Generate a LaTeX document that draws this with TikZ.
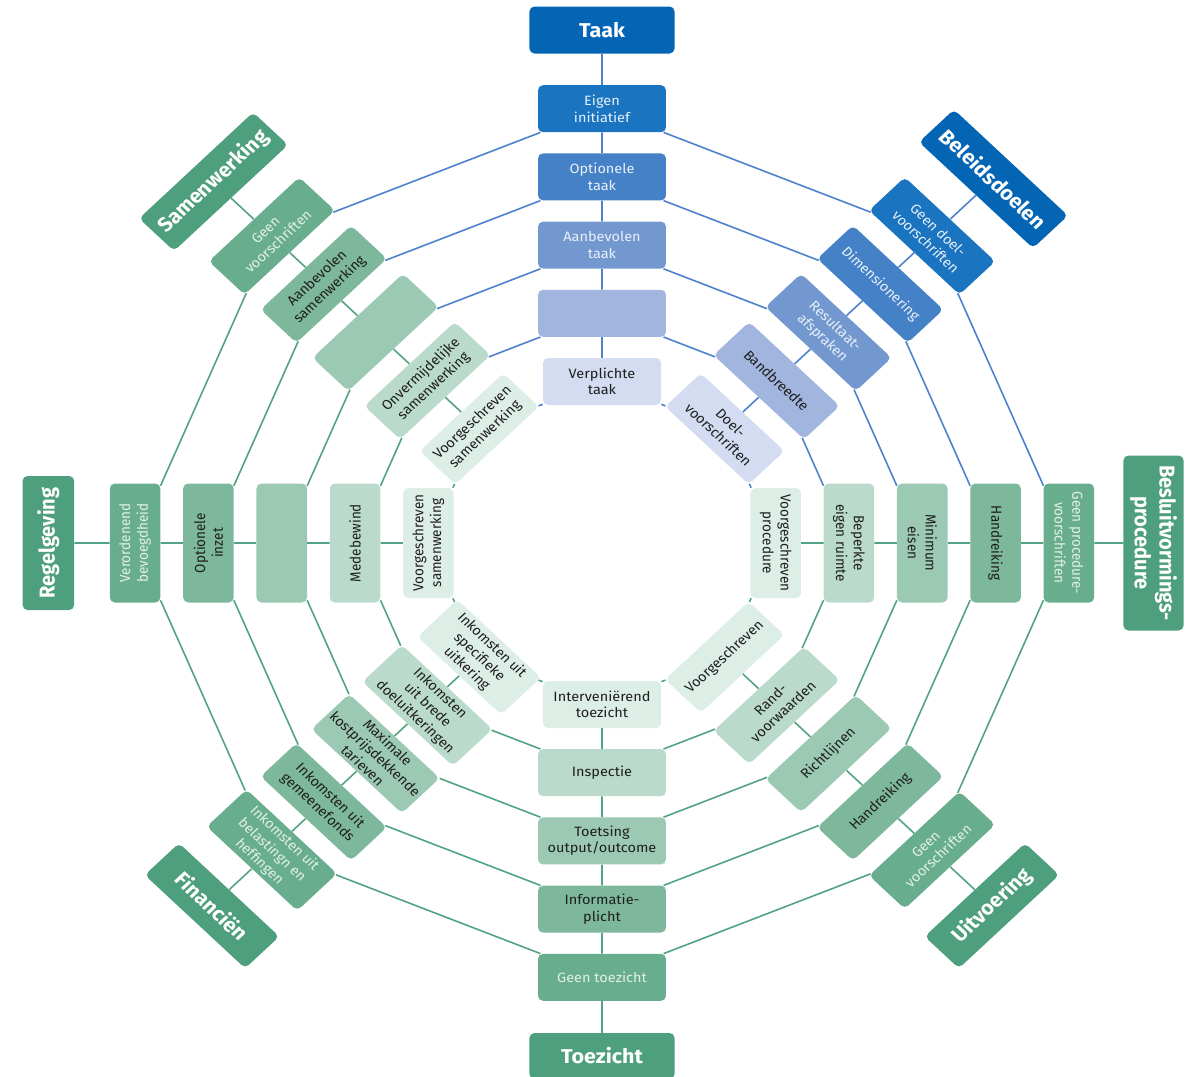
\documentclass[tikz,border=0pt]{standalone}
\usepackage{fontspec}
\setmainfont{Fira Sans}
\definecolor{b0}{HTML}{0565B5}
\definecolor{b5}{HTML}{1A74C0}
\definecolor{b4}{HTML}{4581C6}
\definecolor{b3}{HTML}{7398D0}
\definecolor{b2}{HTML}{A1B5DE}
\definecolor{b1}{HTML}{D3DCF1}
\definecolor{g0}{HTML}{4E9F7E}
\definecolor{g5}{HTML}{69AD8F}
\definecolor{g4}{HTML}{7DB89C}
\definecolor{g3}{HTML}{9BC9B3}
\definecolor{g2}{HTML}{BADACB}
\definecolor{g1}{HTML}{DDEEE6}
\definecolor{bl}{HTML}{4F82CC}
\definecolor{gl}{HTML}{52A385}
\definecolor{lb}{HTML}{E8F0F9}
\definecolor{lg}{HTML}{E2F0E8}
\definecolor{dk}{HTML}{1E1E1E}
\tikzset{
  lnB/.style={draw=bl, line width=1.6pt},
  lnG/.style={draw=gl, line width=1.6pt},
  box/.style={rounded corners=5pt, align=center, inner sep=3pt, minimum width=119pt, minimum height=47pt, font=\fontsize{13.5}{16.5}\selectfont, text=dk},
  ringone/.style={box, minimum width=110pt},
  ttl/.style={rounded corners=5pt, align=center, inner sep=3pt, font=\fontsize{20}{23}\selectfont\bfseries, text=white},
}
\begin{document}
\begin{tikzpicture}[x=1pt,y=1pt]
\useasboundingbox (0,0) rectangle (1191,-1076);
\begin{scope}[shift={(602,-543)}, xscale=1.075, transform shape]
% Taak (90)
\node[ttl, fill=b0, minimum width=135pt, minimum height=47pt] (T0) at (90:513) {Taak};
\node[box, fill=b5, text=lb] (T5) at (90:434.3) {Eigen\\initiatief};
\node[box, fill=b4, text=lb] (T4) at (90:366.1) {Optionele\\taak};
\node[box, fill=b3, text=lb] (T3) at (90:297.9) {Aanbevolen\\taak};
\node[box, fill=b2] (T2) at (90:229.7) {};
\node[ringone, fill=b1] (T1) at (90:161.5) {Verplichte\\taak};
% Beleidsdoelen (45)
\node[ttl, fill=b0, rotate=-45, minimum width=150pt, minimum height=46pt] (B0) at (45:515) {Beleidsdoelen};
\node[box, fill=b5, text=lb, rotate=-45] (B5) at (45:434.3) {Geen doel-\\voorschriften};
\node[box, fill=b4, text=lb, rotate=-45] (B4) at (45:366.1) {Dimensionering};
\node[box, fill=b3, text=lb, rotate=-45] (B3) at (45:297.9) {Resultaat-\\afspraken};
\node[box, fill=b2, rotate=-45] (B2) at (45:229.7) {Bandbreedte};
\node[ringone, fill=b1, rotate=-45] (B1) at (45:161.5) {Doel-\\voorschriften};
% Besluitvormingsprocedure (0)
\node[ttl, fill=g0, rotate=-90, minimum width=175pt, minimum height=56pt] (P0) at (0:513) {Besluitvormings-\\procedure};
\node[box, fill=g5, text=lg, rotate=-90] (P5) at (0:434.3) {Geen procedure-\\voorschriften};
\node[box, fill=g4, rotate=-90] (P4) at (0:366.1) {Handreiking};
\node[box, fill=g3, rotate=-90] (P3) at (0:297.9) {Minimum\\eisen};
\node[box, fill=g2, rotate=-90] (P2) at (0:229.7) {Beperkte\\eigen ruimte};
\node[ringone, fill=g1, rotate=-90] (P1) at (0:161.5) {Voorgeschreven\\procedure};
% Uitvoering (-45)
\node[ttl, fill=g0, rotate=45, minimum width=132pt, minimum height=45pt] (U0) at (-45:513) {Uitvoering};
\node[box, fill=g5, text=lg, rotate=45] (U5) at (-45:434.3) {Geen\\voorschriften};
\node[box, fill=g4, rotate=45] (U4) at (-45:366.1) {Handreiking};
\node[box, fill=g3, rotate=45] (U3) at (-45:297.9) {Richtlijnen};
\node[box, fill=g2, rotate=45] (U2) at (-45:229.7) {Rand-\\voorwaarden};
\node[ringone, fill=g1, rotate=45] (U1) at (-45:161.5) {Voorgeschreven};
% Toezicht (-90)
\node[ttl, fill=g0, minimum width=135pt, minimum height=46pt] (Z0) at (-90:513) {Toezicht};
\node[box, fill=g5, text=lg] (Z5) at (-90:434.3) {Geen toezicht};
\node[box, fill=g4] (Z4) at (-90:366.1) {Informatie-\\plicht};
\node[box, fill=g3] (Z3) at (-90:297.9) {Toetsing\\output/outcome};
\node[box, fill=g2] (Z2) at (-90:229.7) {Inspectie};
\node[ringone, fill=g1] (Z1) at (-90:161.5) {Interveniërend\\toezicht};
% Financien (-135)
\node[ttl, fill=g0, rotate=-45, minimum width=132pt, minimum height=45pt] (F0) at (-135:513) {Financiën};
\node[box, fill=g5, text=lg, rotate=-45] (F5) at (-135:434.3) {Inkomsten uit\\belastingn en\\heffingen};
\node[box, fill=g4, rotate=-45] (F4) at (-135:366.1) {Inkomsten uit\\gemeenefonds};
\node[box, fill=g3, rotate=-45] (F3) at (-135:297.9) {Maximale\\kostprijsdekkende\\tarieven};
\node[box, fill=g2, rotate=-45] (F2) at (-135:229.7) {Inkomsten\\uit brede\\doeluitkeringen};
\node[ringone, fill=g1, rotate=-45] (F1) at (-135:161.5) {Inkomsten uit\\specifieke\\uitkering};
% Regelgeving (180)
\node[ttl, fill=g0, rotate=90, minimum width=134pt, minimum height=48pt] (R0) at (180:515) {Regelgeving};
\node[box, fill=g5, text=lg, rotate=90] (R5) at (180:434.3) {Verordenend\\bevoegdheid};
\node[box, fill=g4, rotate=90] (R4) at (180:366.1) {Optionele\\inzet};
\node[box, fill=g3, rotate=90] (R3) at (180:297.9) {};
\node[box, fill=g2, rotate=90] (R2) at (180:229.7) {Medebewind};
\node[ringone, fill=g1, rotate=90] (R1) at (180:161.5) {Voorgeschreven\\samenwerking};
% Samenwerking (135)
\node[ttl, fill=g0, rotate=45, minimum width=150pt, minimum height=46pt] (S0) at (135:511) {Samenwerking};
\node[box, fill=g5, text=lg, rotate=45] (S5) at (135:434.3) {Geen\\voorschriften};
\node[box, fill=g4, rotate=45] (S4) at (135:366.1) {Aanbevolen\\samenwerking};
\node[box, fill=g3, rotate=45] (S3) at (135:297.9) {};
\node[box, fill=g2, rotate=45] (S2) at (135:229.7) {Onvermijdelijke\\samenwerking};
\node[ringone, fill=g1, rotate=45] (S1) at (135:161.5) {Voorgeschreven\\samenwerking};
% spokes
\draw[lnB] (T0) -- (T5) -- (T4) -- (T3) -- (T2) -- (T1);
\draw[lnB] (B0) -- (B5) -- (B4) -- (B3) -- (B2) -- (B1);
\foreach \a in {P,U,Z,F,R,S} {
  \draw[lnG] (\a0) -- (\a5) -- (\a4) -- (\a3) -- (\a2) -- (\a1);
}
% rings
\foreach \k in {1,...,5} {
  \draw[lnB] (S\k) -- (T\k) -- (B\k) -- (P\k);
  \draw[lnG] (S\k) -- (R\k) -- (F\k) -- (Z\k) -- (U\k) -- (P\k);
}
\end{scope}
\end{tikzpicture}
\end{document}
